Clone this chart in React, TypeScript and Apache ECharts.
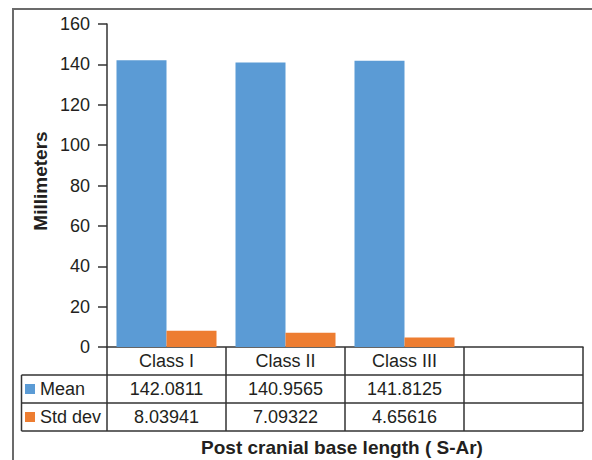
import React, { useEffect, useRef } from "react";
import * as echarts from "echarts";

const categories = ["Class I", "Class II", "Class III", ""];
const meanValues = [142.0811, 140.9565, 141.8125];
const stdValues = [8.03941, 7.09322, 4.65616];
const seriesNames = ["Mean", "Std dev"];
const yTitle = "Millimeters";
const xTitle = "Post cranial base length ( S-Ar)";

const FONT = "'Liberation Sans', Arial, Helvetica, sans-serif";
const TXT = "#231f20";
const LINE = "#333333";

export default function App() {
  const ref = useRef<HTMLDivElement>(null);
  useEffect(() => {
    if (!ref.current) return;
    const chart = echarts.init(ref.current, undefined, { renderer: "svg" });
    const gl = 107, gr = 583, gt = 24, gb = 347;
    const row = 28;
    const tableLeft = 21.5;
    const hline = (y: number, x1: number, x2: number) => ({
      type: "line",
      shape: { x1, y1: y, x2, y2: y },
      style: { stroke: LINE, lineWidth: 1.5 },
      silent: true,
    });
    const vline = (x: number, y1: number, y2: number, color = LINE, w = 1.5) => ({
      type: "line",
      shape: { x1: x, y1, x2: x, y2 },
      style: { stroke: color, lineWidth: w },
      silent: true,
    });
    const catAxisBase = {
      type: "category" as const,
      gridIndex: 0,
      position: "bottom" as const,
      boundaryGap: true,
      axisLine: { show: false },
      axisTick: { show: false },
      axisLabel: { fontSize: 18, color: TXT, fontFamily: FONT, margin: 5, interval: 0 },
    };
    chart.setOption({
      animation: false,
      backgroundColor: "#ffffff",
      textStyle: { fontFamily: FONT },
      grid: { left: gl, right: 592 - gr, top: gt, bottom: 460 - gb, containLabel: false },
      legend: {
        orient: "vertical",
        left: 25,
        top: gb + row,
        padding: 0,
        itemGap: 0,
        itemWidth: 10,
        itemHeight: 10,
        icon: "rect",
        data: seriesNames,
        textStyle: { fontSize: 18, color: TXT, fontFamily: FONT, lineHeight: row, padding: [0, 0, 0, 0] },
        itemStyle: { borderWidth: 0 },
      },
      xAxis: [
        {
          ...catAxisBase,
          data: categories,
          axisLine: { show: true, lineStyle: { color: LINE, width: 1.5 } },
          axisTick: { show: true, length: row * 3, lineStyle: { color: LINE, width: 1.5 } },
        },
        {
          ...catAxisBase,
          offset: row,
          data: [...meanValues.map(String), ""],
        },
        {
          ...catAxisBase,
          offset: row * 2,
          data: [...stdValues.map(String), ""],
        },
      ],
      yAxis: {
        type: "value",
        min: 0,
        max: 160,
        interval: 20,
        axisLine: { show: true, lineStyle: { color: LINE, width: 1.5 } },
        axisTick: { show: true, length: 9, lineStyle: { color: LINE, width: 1.5 } },
        axisLabel: { fontSize: 18, color: TXT, fontFamily: FONT, margin: 17 },
        splitLine: { show: false },
      },
      series: [
        {
          name: seriesNames[0],
          type: "bar",
          data: meanValues,
          barWidth: 50,
          barGap: "0%",
          itemStyle: { color: "#5b9bd5" },
        },
        {
          name: seriesNames[1],
          type: "bar",
          data: stdValues,
          barWidth: 50,
          barGap: "0%",
          itemStyle: { color: "#ed7d31" },
        },
      ],
      graphic: [
        hline(gb + row, tableLeft, gr),
        hline(gb + row * 2, tableLeft, gr),
        hline(gb + row * 3, tableLeft, gr),
        vline(tableLeft, gb + row, gb + row * 3),
        vline(13, 9, 460, "#6b6b6b", 2),
        {
          type: "line",
          shape: { x1: 12, y1: 9, x2: 592, y2: 9 },
          style: { stroke: "#6b6b6b", lineWidth: 2 },
          silent: true,
        },
        {
          type: "text",
          x: 342,
          y: 447,
          style: {
            text: xTitle,
            fontSize: 19,
            fontWeight: "bold",
            fill: TXT,
            fontFamily: FONT,
            align: "center",
            verticalAlign: "middle",
          },
          silent: true,
        },
        {
          type: "text",
          x: 40,
          y: 181,
          rotation: Math.PI / 2,
          style: {
            text: yTitle,
            fontSize: 19,
            fontWeight: "bold",
            fill: TXT,
            fontFamily: FONT,
            align: "center",
            verticalAlign: "middle",
          },
          silent: true,
        },
      ],
    });
    return () => chart.dispose();
  }, []);
  return <div ref={ref} style={{ width: 592, height: 460, position: "absolute", left: 0, top: 0 }} />;
}
